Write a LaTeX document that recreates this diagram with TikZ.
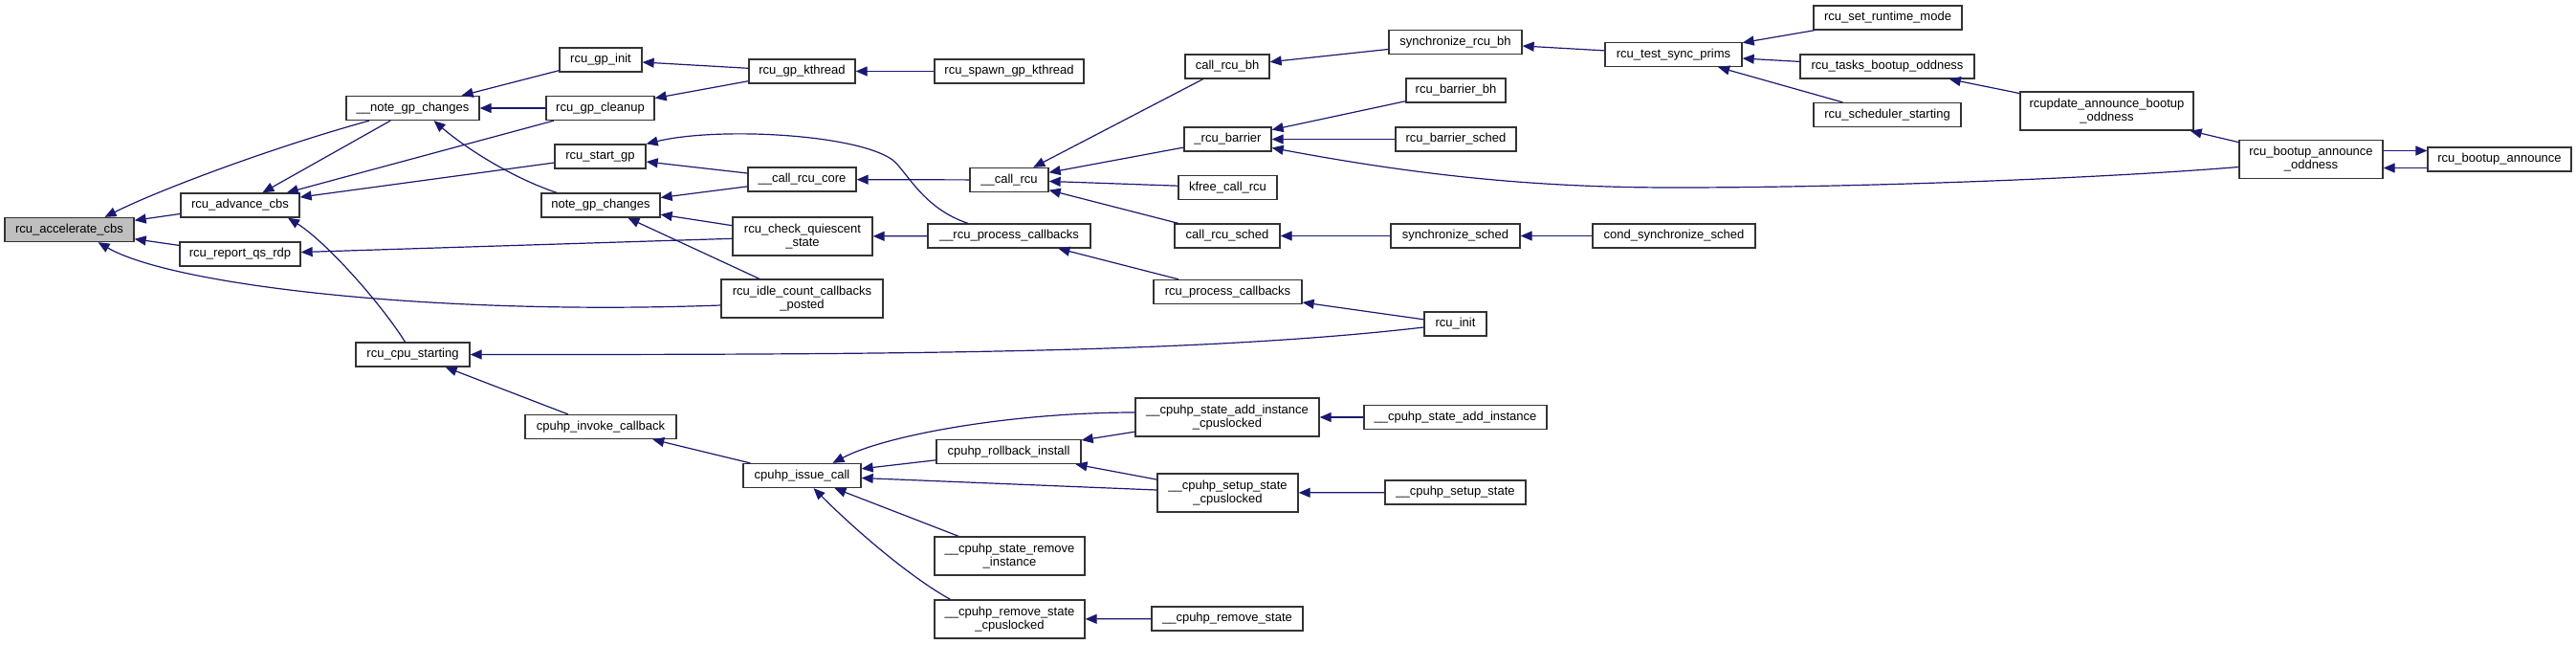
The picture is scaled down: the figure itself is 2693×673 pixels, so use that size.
\documentclass[tikz,border=0pt]{standalone}
\usepackage{fontspec}
\setmainfont{Liberation Sans}
\usepackage{tikz}
\usetikzlibrary{arrows.meta,calc}
\definecolor{edgeblue}{RGB}{25,25,112}
\definecolor{rootgray}{RGB}{191,191,191}

\begin{document}
\begin{tikzpicture}[x=1pt,y=-1pt,>={Triangle[length=12pt,width=10pt]},
  fn/.style={draw=black!80,line width=1.3pt,fill=white,minimum height=25pt,inner sep=0pt,align=center,font=\fontsize{13}{14}\selectfont},
  fnroot/.style={fn,fill=rootgray},
  twoline/.style={minimum height=40pt},
  calls/.style={<-,draw=edgeblue,line width=1.2pt}]
  \useasboundingbox (0,0) rectangle (2693,673);
  \node[fnroot,minimum width=135pt] (accel) at (72.5,240) {rcu\_accelerate\_cbs};
  \node[fn,minimum width=124pt] (advance) at (251,214.5) {rcu\_advance\_cbs};
  \node[fn,minimum width=126pt] (reportqs) at (251,265.5) {rcu\_report\_qs\_rdp};
  \node[fn,minimum width=139pt] (notegpA) at (431.5,113) {\_\_note\_gp\_changes};
  \node[fn,minimum width=119pt] (cpustart) at (431.5,370.5) {rcu\_cpu\_starting};
  \node[fn,minimum width=86pt] (gpinit) at (628,62.5) {rcu\_gp\_init};
  \node[fn,minimum width=113pt] (gpcleanup) at (627.5,113) {rcu\_gp\_cleanup};
  \node[fn,minimum width=95pt] (startgp) at (627.5,163.5) {rcu\_start\_gp};
  \node[fn,minimum width=124pt] (notegp) at (628,214.5) {note\_gp\_changes};
  \node[fn,minimum width=158pt] (invokecb) at (628,446) {cpuhp\_invoke\_callback};
  \node[fn,minimum width=111pt] (gpkthread) at (838.5,74.5) {rcu\_gp\_kthread};
  \node[fn,minimum width=113pt] (callrcucore) at (838.5,187.5) {\_\_call\_rcu\_core};
  \node[fn,twoline,minimum width=146pt] (checkqs) at (839,247) {rcu\_check\_quiescent\\\_state};
  \node[fn,twoline,minimum width=169pt] (idlecount) at (838.5,312) {rcu\_idle\_count\_callbacks\\\_posted};
  \node[fn,minimum width=123pt] (issuecall) at (838.5,497) {cpuhp\_issue\_call};
  \node[fn,minimum width=156pt] (spawn) at (1055,74.5) {rcu\_spawn\_gp\_kthread};
  \node[fn,minimum width=82pt] (callrcu) at (1055,188) {\_\_call\_rcu};
  \node[fn,minimum width=170pt] (rcuprocA) at (1055,246.5) {\_\_rcu\_process\_callbacks};
  \node[fn,minimum width=151pt] (rollback) at (1054.5,472) {cpuhp\_rollback\_install};
  \node[fn,twoline,minimum width=157pt] (removeinst) at (1055.5,581) {\_\_cpuhp\_state\_remove\\\_instance};
  \node[fn,twoline,minimum width=157pt] (removecpul) at (1055.5,647) {\_\_cpuhp\_remove\_state\\\_cpuslocked};
  \node[fn,minimum width=88pt] (callrcubh) at (1283,69.5) {call\_rcu\_bh};
  \node[fn,minimum width=91pt] (rcubarrier) at (1283.5,145.5) {\_rcu\_barrier};
  \node[fn,minimum width=103pt] (kfree) at (1283.5,196) {kfree\_call\_rcu};
  \node[fn,minimum width=110pt] (callrcusched) at (1283,246.5) {call\_rcu\_sched};
  \node[fn,minimum width=155pt] (rcuproc) at (1283.5,305) {rcu\_process\_callbacks};
  \node[fn,twoline,minimum width=192pt] (addinstcpul) at (1283,436) {\_\_cpuhp\_state\_add\_instance\\\_cpuslocked};
  \node[fn,twoline,minimum width=147pt] (setupcpul) at (1283.5,515) {\_\_cpuhp\_setup\_state\\\_cpuslocked};
  \node[fn,minimum width=158pt] (removestate) at (1283,646.5) {\_\_cpuhp\_remove\_state};
  \node[fn,minimum width=139pt] (syncrcubh) at (1521.5,44) {synchronize\_rcu\_bh};
  \node[fn,minimum width=104pt] (barrierbh) at (1522,94.5) {rcu\_barrier\_bh};
  \node[fn,minimum width=126pt] (barriersched) at (1522,145.5) {rcu\_barrier\_sched};
  \node[fn,minimum width=135pt] (syncsched) at (1521.5,246.5) {synchronize\_sched};
  \node[fn,minimum width=65pt] (rcuinit) at (1521.5,338.5) {rcu\_init};
  \node[fn,minimum width=191pt] (addinst) at (1521.5,436) {\_\_cpuhp\_state\_add\_instance};
  \node[fn,minimum width=147pt] (setupstate) at (1521.5,514.5) {\_\_cpuhp\_setup\_state};
  \node[fn,minimum width=143pt] (testsync) at (1749.5,57) {rcu\_test\_sync\_prims};
  \node[fn,minimum width=170pt] (condsync) at (1750,246.5) {cond\_synchronize\_sched};
  \node[fn,minimum width=155pt] (runtime) at (1973.5,18.5) {rcu\_set\_runtime\_mode};
  \node[fn,minimum width=182pt] (tasksboot) at (1973,69.5) {rcu\_tasks\_bootup\_oddness};
  \node[fn,minimum width=154pt] (schedstart) at (1973,120) {rcu\_scheduler\_starting};
  \node[fn,twoline,minimum width=181pt] (rcupdate) at (2202.5,116) {rcupdate\_announce\_bootup\\\_oddness};
  \node[fn,twoline,minimum width=150pt] (bootodd) at (2416,166.5) {rcu\_bootup\_announce\\\_oddness};
  \node[fn,minimum width=150pt] (bootann) at (2613,166.5) {rcu\_bootup\_announce};

  \draw[calls] ($(accel.north)+(37,0)$) .. controls +(60,-30) and +(-95,26) .. ($(notegpA.south)+(-45.5,0)$);
  \draw[calls] (accel) -- (advance);
  \draw[calls] (accel) -- (reportqs);
  \draw[calls] ($(accel.south)+(30,0)$) .. controls +(78,45) and +(-300,11) .. ($(idlecount.west)+(0,7)$);
  \draw[calls] (advance) -- (notegpA);
  \draw[calls] (advance) -- (gpcleanup);
  \draw[calls] (advance) -- (startgp);
  \draw[calls] ($(advance.south)+(50,0)$) .. controls +(40,25) and +(-25,-40) .. ($(cpustart.north)+(-8,0)$);
  \draw[calls] (reportqs) -- (checkqs);
  \draw[calls] (notegpA) -- (gpinit);
  \draw[calls] (notegpA) -- (gpcleanup);
  \draw[calls] ($(notegpA.south)+(22,0)$) .. controls +(35,30) and +(-45,-15) .. ($(notegp.north)+(-46,0)$);
  \draw[calls] (gpinit) -- (gpkthread);
  \draw[calls] (gpcleanup) -- (gpkthread);
  \draw[calls] (gpkthread) -- (spawn);
  \draw[calls] (startgp) -- (callrcucore);
  \draw[calls] (startgp.north east) .. controls +(75,-18) and (895,140) .. (933,167)
    .. controls (948,179) and (965,218) .. ($(rcuprocA.north)+(-43,0)$);
  \draw[calls] (notegp) -- (callrcucore);
  \draw[calls] (notegp) -- (checkqs);
  \draw[calls] (notegp) -- (idlecount);
  \draw[calls] (callrcucore) -- (callrcu);
  \draw[calls] (checkqs) -- (rcuprocA);
  \draw[calls] (rcuprocA) -- (rcuproc);
  \draw[calls] (callrcu) -- (callrcubh);
  \draw[calls] (callrcu) -- (rcubarrier);
  \draw[calls] (callrcu) -- (kfree);
  \draw[calls] (callrcu) -- (callrcusched);
  \draw[calls] (callrcubh) -- (syncrcubh);
  \draw[calls] (rcubarrier) -- (barrierbh);
  \draw[calls] (rcubarrier) -- (barriersched);
  \draw[calls] ($(rcubarrier.east)+(0,9)$) .. controls +(150,28) and (1600,196) .. (1750,196)
    .. controls (1950,196) and (2200,186) .. ($(bootodd.west)+(0,8)$);
  \draw[calls] (callrcusched) -- (syncsched);
  \draw[calls] (syncsched) -- (condsync);
  \draw[calls] (syncrcubh) -- (testsync);
  \draw[calls] (testsync) -- (runtime);
  \draw[calls] (testsync) -- (tasksboot);
  \draw[calls] (testsync) -- (schedstart);
  \draw[calls] (tasksboot) -- (rcupdate);
  \draw[calls] (rcupdate) -- (bootodd);
  \draw[calls] ($(bootodd.east)+(0,9)$) -- ($(bootann.west)+(0,9)$);
  \draw[calls] ($(bootann.west)+(0,-9)$) -- ($(bootodd.east)+(0,-9)$);
  \draw[calls] (rcuproc) -- (rcuinit);
  \draw[calls] (cpustart.east) .. controls +(410,0) and +(-240,28) .. ($(rcuinit.west)+(0,3.5)$);
  \draw[calls] (cpustart) -- (invokecb);
  \draw[calls] (invokecb) -- (issuecall);
  \draw[calls] ($(issuecall.north)+(32,0)$) .. controls +(55,-29) and +(-130,0) .. ($(addinstcpul.west)+(0,-5)$);
  \draw[calls] (issuecall) -- (rollback);
  \draw[calls] (issuecall) -- (setupcpul);
  \draw[calls] (issuecall) -- (removeinst);
  \draw[calls] ($(issuecall.south)+(12,0)$) .. controls +(40,40) and +(-45,-25) .. ($(removecpul.north)+(-62,0)$);
  \draw[calls] (rollback) -- (addinstcpul);
  \draw[calls] (rollback) -- (setupcpul);
  \draw[calls] (addinstcpul) -- (addinst);
  \draw[calls] (setupcpul) -- (setupstate);
  \draw[calls] (removecpul) -- (removestate);
\end{tikzpicture}
\end{document}
